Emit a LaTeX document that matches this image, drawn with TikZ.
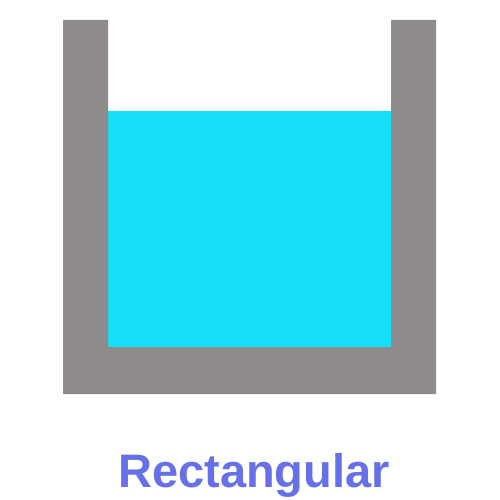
\documentclass[tikz,border=0pt]{standalone}
\usepackage{fontspec}
\setmainfont{Liberation Sans}
\definecolor{wallgray}{HTML}{8F8B8A}
\definecolor{watercyan}{HTML}{15E0F8}
\definecolor{labelblue}{HTML}{6670E8}
\begin{document}
\begin{tikzpicture}[x=1pt,y=-1pt]
    % Khung hình
    \useasboundingbox (0,0) rectangle (500,500);
    
    % Vẽ nước trong bể
    \fill[watercyan] (108,111) rectangle (391,347);
    
    % Vẽ thành bể hình chữ U
    \fill[wallgray] (63,20) -- (108,20) -- (108,347) -- (391,347) -- (391,20)
        -- (436,20) -- (436,394) -- (63,394) -- cycle;
    
    % Nhãn
    \node[text=labelblue,font=\fontsize{47}{50}\selectfont\bfseries,anchor=base]
        (label) at (254,487) {Rectangular};
\end{tikzpicture}
\end{document}
